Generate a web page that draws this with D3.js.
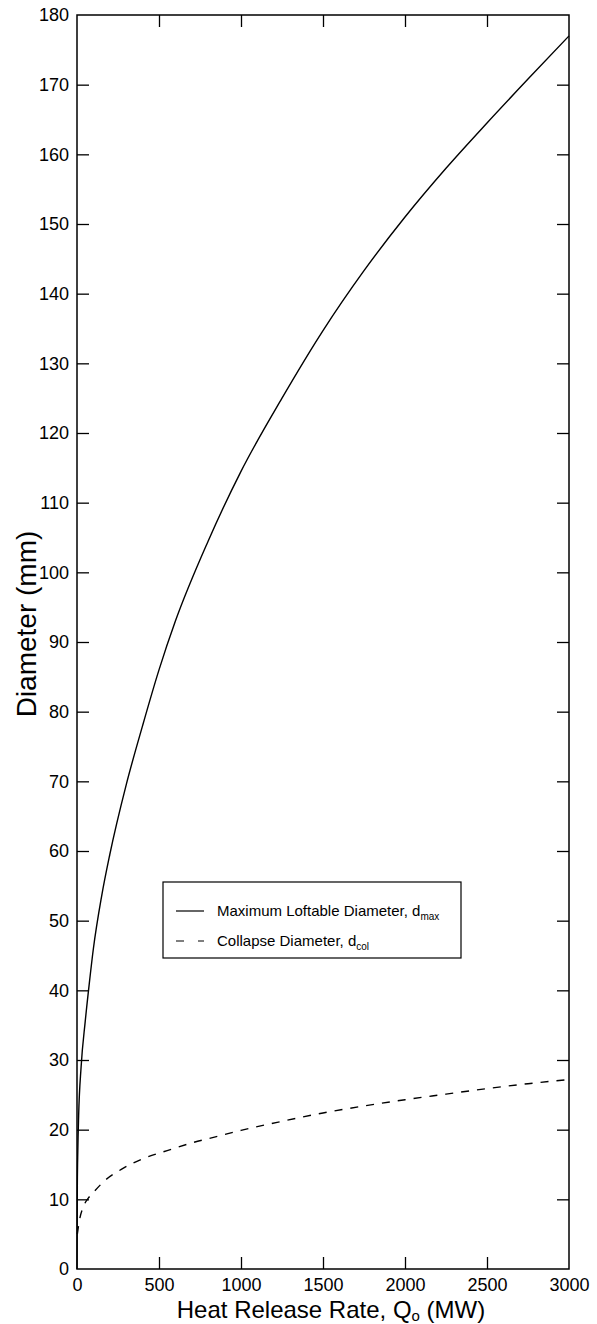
<!DOCTYPE html>
<html lang="en">
<head>
    <meta charset="UTF-8">
    <title>Diameter vs Heat Release Rate</title>
    <style>
        body{ margin:0; background:#fff; }
        svg{ display:block; font-family:"Liberation Sans", Arial, Helvetica, sans-serif; }
        .tick line{ stroke:#000; stroke-width:1.3px; }
        .tick text{ fill:#000; font-size:18px; }
        .domain{ display:none; }
    </style>
    <script src="https://d3js.org/d3.v7.min.js"></script>
</head>
<body>
    <div class="canvas"></div>
    <script>
    // readings
    const qMax = [0, 2, 5, 10, 25, 50, 75, 100, 150, 200, 300, 400, 500, 600, 800, 1000, 1250, 1500, 1750, 2000, 2250, 2500, 2750, 3000];
    const dMax = [0, 12, 17, 22, 29, 35.5, 41, 46, 53.5, 59.5, 69.5, 78, 86, 93, 104.5, 114.5, 125, 134.7, 143.3, 151, 158, 164.5, 170.8, 177];

    const qCol = [2, 15, 40, 70, 100, 170, 270, 400, 550, 700, 850, 1000, 1250, 1500, 1750, 2000, 2250, 2500, 2750, 3000];
    const dCol = [5, 7, 9, 10.2, 11, 12.7, 14.3, 15.8, 17, 18.1, 19, 19.9, 21.2, 22.4, 23.4, 24.3, 25.1, 25.9, 26.6, 27.2];

    const xTicks = [0, 500, 1000, 1500, 2000, 2500, 3000];
    const yTicks = d3.range(0, 181, 10);

    const legendLabels = [
        {name:'Maximum Loftable Diameter, d', sub:'max', dash:null},
        {name:'Collapse Diameter, d', sub:'col', dash:'8,14'}
    ];

    const W = 597, H = 1324;
    const mLeft = 77, mRight = 569, mTop = 15, mBottom = 1269;

    const x = d3.scaleLinear().domain([0, 3000]).range([mLeft, mRight]);
    const y = d3.scaleLinear().domain([0, 180]).range([mBottom, mTop]);

    const svg = d3.select('.canvas')
                    .append('svg')
                    .attr('width', W)
                    .attr('height', H);

    // axes, ticks pointing inward
    svg.append('g')
        .attr('transform', `translate(0,${mBottom})`)
        .call(d3.axisBottom(x).tickValues(xTicks).tickFormat(d3.format('d'))
            .tickSizeInner(-12).tickSizeOuter(0).tickPadding(9));
    svg.append('g')
        .attr('transform', `translate(0,${mTop})`)
        .call(d3.axisTop(x).tickValues(xTicks).tickSizeInner(-12).tickSizeOuter(0).tickFormat(''));
    svg.append('g')
        .attr('transform', `translate(${mLeft},0)`)
        .call(d3.axisLeft(y).tickValues(yTicks).tickSizeInner(-12).tickSizeOuter(0).tickPadding(8));
    svg.append('g')
        .attr('transform', `translate(${mRight},0)`)
        .call(d3.axisRight(y).tickValues(yTicks).tickSizeInner(-12).tickSizeOuter(0).tickFormat(''));

    // hide end ticks that sit on the frame
    svg.selectAll('.tick line').filter(function(){
        const t = d3.select(this.parentNode).datum();
        return t === 0 || t === 3000 || t === 180;
    }).remove();

    svg.append('rect')
        .attr('x', mLeft).attr('y', mTop)
        .attr('width', mRight - mLeft).attr('height', mBottom - mTop)
        .attr('fill', 'none').attr('stroke', '#000').attr('stroke-width', 1.5);

    const line = d3.line()
        .x(d => x(d[0]))
        .y(d => y(d[1]))
        .curve(d3.curveMonotoneX);

    svg.append('path')
        .datum(d3.zip(qMax, dMax))
        .attr('d', line)
        .attr('fill', 'none').attr('stroke', '#000').attr('stroke-width', 1.4);

    svg.append('path')
        .datum(d3.zip(qCol, dCol))
        .attr('d', line)
        .attr('fill', 'none').attr('stroke', '#000').attr('stroke-width', 1.4)
        .attr('stroke-dasharray', '8,8');

    // legend
    const lg = svg.append('g').attr('transform', 'translate(163,882)');
    lg.append('rect')
        .attr('width', 298).attr('height', 76)
        .attr('fill', '#fff').attr('stroke', '#000').attr('stroke-width', 1.2);
    const row = lg.selectAll('g.row')
        .data(legendLabels)
        .enter()
        .append('g')
        .attr('class', 'row')
        .attr('transform', (d, i) => `translate(0,${29 + i * 30})`);
    row.append('line')
        .attr('x1', 13).attr('x2', 41)
        .attr('stroke', '#000').attr('stroke-width', 1.2)
        .attr('stroke-dasharray', d => d.dash);
    const lt = row.append('text')
        .attr('x', 54).attr('y', 5)
        .attr('font-size', 15);
    lt.append('tspan').text(d => d.name);
    lt.append('tspan').attr('dy', 4).attr('font-size', 10).text(d => d.sub);

    // axis titles
    const xt = svg.append('text')
        .attr('x', 331).attr('y', 1318)
        .attr('text-anchor', 'middle')
        .attr('font-size', 24);
    xt.append('tspan').text('Heat Release Rate, Q');
    xt.append('tspan').attr('dy', 3).attr('font-size', 15).text('o');
    xt.append('tspan').attr('dy', -3).text(' (MW)');

    svg.append('text')
        .attr('transform', 'translate(36,624) rotate(-90)')
        .attr('text-anchor', 'middle')
        .attr('font-size', 28)
        .text('Diameter (mm)');
    </script>
</body>
</html>
